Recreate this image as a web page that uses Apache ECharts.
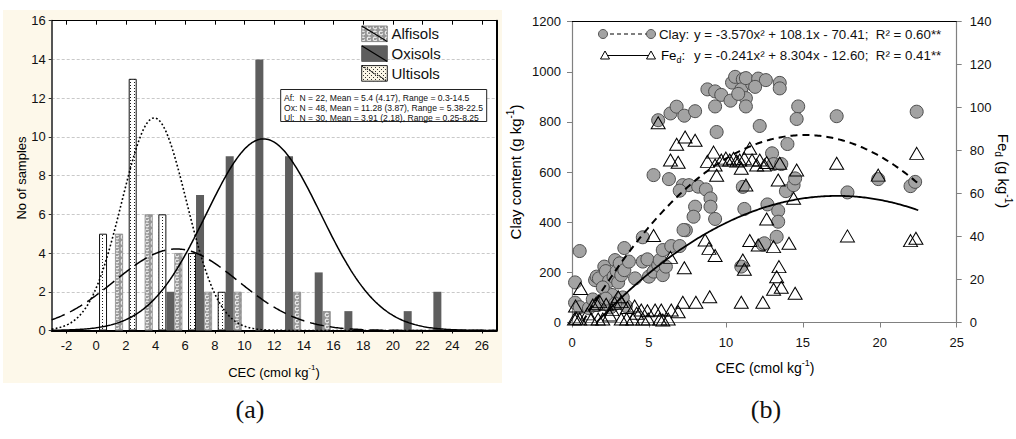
<!DOCTYPE html>
<html>
<head>
<meta charset="utf-8">
<script src="https://cdn.jsdelivr.net/npm/echarts@6/dist/echarts.min.js"></script>
<style>
  html, body { margin: 0; padding: 0; background: #ffffff; }
  #chart { width: 1016px; height: 439px; }
</style>
</head>
<body>
<div id="chart"></div>
<script>
// ---------- Panel (a): CEC frequency by soil order ----------
const cecBins        = [1, 3, 5, 7, 9, 11, 13, 15, 17, 19, 21, 23];
const ultisolsCounts = [5, 13, 6, 4, 2, 0, 0, 0, 0, 0, 0, 0];
const oxisolsCounts  = [0, 0, 2, 7, 9, 14, 9, 3, 1, 0, 1, 2];
const alfisolsCounts = [5, 6, 4, 2, 2, 0, 2, 1, 0, 0, 0, 0];
const binWidth = 2;

// fitted normal curves: Alfisols, Oxisols, Ultisols
const soilNames = ['Alfisols', 'Oxisols', 'Ultisols'];
const soilAbbr  = ['Af:', 'Ox:', 'Ul:'];
const soilN     = [22, 48, 30];
const soilMean  = ['5.4', '11.28', '3.91'];
const soilSD    = ['4.17', '3.87', '2.18'];
const soilRange = ['0.3-14.5', '5.38-22.5', '0.25-8.25'];

const histXTicks = [-2, 0, 2, 4, 6, 8, 10, 12, 14, 16, 18, 20, 22, 24, 26];

// ---------- Panel (b): clay and Fe_d against CEC ----------
const clayPoints = [
  [5.6,807],[6.4,834],[6.8,861],[7.3,825],[8.0,843],[8.8,930],[9.3,922],[9.7,908],[9.3,862],[9.4,760],
  [10.3,885],[10.4,957],[10.6,980],[11.1,970],[11.0,930],[11.3,895],[11.3,862],[11.7,952],[11.3,975],[12.1,973],
  [12.6,967],[13.5,956],[13.5,934],[14.7,862],[14.6,812],[17.2,823],[22.4,841],[12.2,784],[14.0,712],[10.8,912],
  [11.9,940],
  [5.3,588],[6.3,572],[7.2,548],[7.6,548],[8.2,542],[8.7,531],[7.0,526],[9.0,495],[8.0,462],[9.0,462],
  [7.9,422],[9.3,413],[7.4,368],[11.2,453],[11.1,541],[12.7,471],[13.0,675],[13.1,632],[13.6,632],[13.9,524],
  [14.4,548],[14.5,575],[17.9,519],[19.9,572],[22.0,544],[22.3,561],[13.4,446],[13.4,402],[13.3,342],[12.4,311],
  [11.0,223],[12.5,316],
  [0.2,160],[0.5,285],[0.2,79],[0.5,61],[1.1,57],[1.35,92],[1.5,169],[1.6,183],[1.75,176],[1.9,87],
  [2.1,223],[2.2,205],[2.4,165],[2.6,110],[2.7,183],[2.8,249],[2.9,205],[3.1,90],[3.0,160],[3.1,236],
  [3.2,189],[3.4,209],[3.4,297],[3.5,66],[3.7,243],[4.1,176],[4.6,243],[4.6,340],[4.9,252],[5.0,183],
  [5.3,203],[5.6,229],[5.7,249],[5.9,189],[5.9,289],[6.1,223],[6.45,305],[7.0,305],[7.25,369],[2.0,140],
  [2.5,60],[1.6,70],[2.2,95],[3.3,100],[2.8,75]
];
const fePoints = [
  [5.6,93],[7.35,86.3],[8.0,84.8],[6.8,83],[6.4,75.6],[6.9,74.6],[9.2,79.3],[8.8,75],[9.4,68.5],[9.3,73.3],
  [9.7,75.6],[10.0,76.5],[10.25,75.6],[10.5,76.4],[10.7,75.2],[10.9,75.6],[11.0,71.8],[11.2,76.4],[11.55,81.1],[11.7,75.6],
  [12.0,73.3],[12.2,75.6],[12.5,73.3],[12.65,74.5],[13.5,74.1],[14.6,71],[17.2,74.1],[22.4,78.7],[19.9,68.6],[11.3,64],
  [13.4,66.3],[14.4,57.8],[12.65,48.2],[11.55,38.2],[12.1,36.1],[13.1,35.3],[14.1,36.9],[17.9,40.3],[22.0,38.1],[22.35,39.2],
  [11.1,29.1],[11.2,24.8],[13.45,26],[13.3,21.3],[13.1,15.5],[13.6,16.4],[14.5,13.6],[12.4,9.4],[11.0,9.4],
  [0.55,15.8],[0.23,7.7],[0.27,2],[5.3,40.5],[6.4,30.3],[7.3,25.5],[8.65,38.4],[8.9,34.5],[9.3,31.2],[8.95,12],
  [8.05,9.4],[7.2,9.4],[6.9,5],[6.45,5.8],[5.8,5.8],[5.4,5.8],[4.9,5.5],[4.5,5.8],[4.07,7.7],[3.6,7],
  [3.2,9.7],[2.77,9],[2.22,8.5],[1.8,9.7],[1.35,8.1],[1.57,8.9],[3.0,12],[0.16,1.6],[0.5,1.6],[1.25,1.6],
  [1.7,1.6],[2.0,1.6],[3.2,1.6],[3.55,1.6],[3.95,1.6],[4.6,1.6],[4.95,1.6],[5.7,1.6],[5.9,1.2],[6.25,1.6],
  [4.2,4.3],[2.45,3.5],[2.6,6],[1.0,4]
];

// quadratic fits as printed: a, b, c (y = a x^2 + b x - c)
const clayEq = ['-3.570', '108.1', '70.41'];
const clayR2 = '0.60';
const feEq   = ['-0.241', '8.304', '12.60'];
const feR2   = '0.41';
const fitCEC = [0.2, 22.5];

const FONT = '"Liberation Sans", Arial, sans-serif';
const SERIF = '"Liberation Serif", "Times New Roman", serif';

// ---------- fill patterns ----------
function makePattern(w, h, draw) {
  const c = document.createElement('canvas');
  c.width = w; c.height = h;
  draw(c.getContext('2d'));
  return { image: c, repeat: 'repeat', imageWidth: w, imageHeight: h };
}
const alfPattern = makePattern(6, 6, g => {
  g.fillStyle = '#979797'; g.fillRect(0, 0, 6, 6);
  g.strokeStyle = '#f4f4f4'; g.lineWidth = 1.1;
  g.beginPath(); g.arc(3, 3, 1.8, 0.3, Math.PI * 1.8); g.stroke();
});
const ultPattern = makePattern(4, 3, g => {
  g.fillStyle = '#ffffff'; g.fillRect(0, 0, 4, 3);
  g.fillStyle = '#1a1a1a'; g.fillRect(2, 1, 1, 1);
});
const ultLegendPattern = makePattern(4, 4, g => {
  g.fillStyle = '#fbf6e6'; g.fillRect(0, 0, 4, 4);
  g.fillStyle = '#333'; g.fillRect(1, 1, 1, 1); g.fillRect(3, 3, 1, 1);
});

// ---------- derived series data ----------
function barData(counts) {
  return cecBins.map((x, i) => [x, counts[i]]).filter(d => d[1] > 0);
}
function normalCurve(i) {
  const n = soilN[i], m = parseFloat(soilMean[i]), s = parseFloat(soilSD[i]);
  const k = n * binWidth / (s * Math.sqrt(2 * Math.PI));
  const out = [];
  for (let x = -3; x <= 27.001; x += 0.1) {
    out.push([+x.toFixed(2), k * Math.exp(-((x - m) * (x - m)) / (2 * s * s))]);
  }
  return out;
}
function quadCurve(eq) {
  const a = parseFloat(eq[0]), b = parseFloat(eq[1]), c = -parseFloat(eq[2]);
  const out = [];
  for (let x = fitCEC[0]; x <= fitCEC[1] + 1e-9; x += 0.1) {
    const y = a * x * x + b * x + c;
    if (y >= 0) out.push([+x.toFixed(2), y]);
  }
  return out;
}

// ---------- text helpers ----------
function richStyle(size) {
  return {
    n: { fontSize: size, fontFamily: FONT, color: '#111', lineHeight: size + 5 },
    s: { fontSize: Math.round(size * 0.65), fontFamily: FONT, color: '#111', lineHeight: 9, verticalAlign: 'top' },
    d: { fontSize: Math.round(size * 0.68), fontFamily: FONT, color: '#111', lineHeight: 9, verticalAlign: 'bottom' }
  };
}
function titleText(x, y, text, size, rotation) {
  return {
    type: 'text', x: x, y: y, rotation: rotation || 0, z: 20,
    style: { text: text, align: 'center', verticalAlign: 'middle', rich: richStyle(size), fontFamily: FONT }
  };
}

// ---------- panel (a) legend and statistics box ----------
const legendA = [];
const legX = 361.7, legW = 25.6, legH = 15.6, legYs = [26, 45.8, 65.6];
const legFills = [alfPattern, '#5e5e5e', ultLegendPattern];
const legStroke = ['#8a8a8a', '#5e5e5e', '#222'];
const legDash = [null, null, [1.5, 1.5]];
soilNames.forEach((name, i) => {
  const y = legYs[i];
  legendA.push({ type: 'rect', z: 20, shape: { x: legX, y: y, width: legW, height: legH },
    style: { fill: legFills[i], stroke: legStroke[i], lineWidth: 1 } });
  legendA.push({ type: 'line', z: 21, shape: { x1: legX, y1: y, x2: legX + legW, y2: y + legH },
    style: { stroke: '#000', lineWidth: 1.2, lineDash: legDash[i] } });
  legendA.push({ type: 'text', z: 21, x: 391.5, y: y + legH / 2,
    style: { text: name, fontSize: 15, fontFamily: FONT, fill: '#111', verticalAlign: 'middle' } });
});
legendA.push({ type: 'rect', z: 20, shape: { x: 280.7, y: 89.5, width: 206, height: 32 },
  style: { fill: '#fff', stroke: '#222', lineWidth: 1 } });
soilAbbr.forEach((ab, i) => {
  const y = 97.5 + i * 10;
  legendA.push({ type: 'text', z: 21, x: 284, y: y,
    style: { text: ab, fontSize: 8.6, fontFamily: FONT, fill: '#111', verticalAlign: 'middle' } });
  legendA.push({ type: 'text', z: 21, x: 299.5, y: y,
    style: { text: 'N = ' + soilN[i] + ', Mean = ' + soilMean[i] + ' (' + soilSD[i] + '), Range = ' + soilRange[i],
      fontSize: 8.6, fontFamily: FONT, fill: '#111', verticalAlign: 'middle' } });
});

// ---------- panel (b) legend ----------
function tri(cx, cy, w, h) {
  return [[cx, cy - h / 2], [cx + w / 2, cy + h / 2], [cx - w / 2, cy + h / 2]];
}
function fmtEq(eq) {
  return 'y = ' + eq[0] + 'x\u00b2 + ' + eq[1] + 'x - ' + eq[2] + ';';
}
const legendB = [
  { type: 'line', z: 20, shape: { x1: 603, y1: 34, x2: 651, y2: 34 }, style: { stroke: '#000', lineWidth: 1.2, lineDash: [4, 3] } },
  { type: 'circle', z: 21, shape: { cx: 603, cy: 34, r: 4.5 }, style: { fill: '#a3a3a3', stroke: '#555', lineWidth: 1 } },
  { type: 'circle', z: 21, shape: { cx: 651, cy: 34, r: 4.5 }, style: { fill: '#a3a3a3', stroke: '#555', lineWidth: 1 } },
  { type: 'line', z: 20, shape: { x1: 605, y1: 55.5, x2: 651, y2: 55.5 }, style: { stroke: '#000', lineWidth: 1.2 } },
  { type: 'polygon', z: 21, shape: { points: tri(605, 55, 9, 8) }, style: { fill: '#fff', stroke: '#000', lineWidth: 1 } },
  { type: 'polygon', z: 21, shape: { points: tri(651, 55, 9, 8) }, style: { fill: '#fff', stroke: '#000', lineWidth: 1 } },
  { type: 'text', z: 21, x: 659, y: 34, style: { text: 'Clay:', fontSize: 13.3, fontFamily: FONT, fill: '#111', verticalAlign: 'middle' } },
  { type: 'text', z: 21, x: 694, y: 34, style: { text: fmtEq(clayEq) + '  R\u00b2 = ' + clayR2 + '**', fontSize: 13.3, fontFamily: FONT, fill: '#111', verticalAlign: 'middle' } },
  { type: 'text', z: 21, x: 661, y: 55, style: { text: '{n|Fe}{d|d}{n|:}', rich: richStyle(13.3), verticalAlign: 'middle' } },
  { type: 'text', z: 21, x: 694, y: 55, style: { text: fmtEq(feEq) + '  R\u00b2 = ' + feR2 + '**', fontSize: 13.3, fontFamily: FONT, fill: '#111', verticalAlign: 'middle' } }
];

// ---------- axis titles and panel letters ----------
const titles = [
  titleText(21, 178, '{n|No of samples}', 13, Math.PI / 2),
  titleText(274, 372, '{n|CEC (cmol kg}{s|-1}{n|)}', 13),
  titleText(515, 172, '{n|Clay content (g kg}{s|-1}{n|)}', 15, Math.PI / 2),
  titleText(1003, 171, '{n|Fe}{d|d}{n| (g kg}{s|-1}{n|)}', 15, -Math.PI / 2),
  titleText(765, 368, '{n|CEC (cmol kg}{s|-1}{n|)}', 14),
  { type: 'text', z: 20, x: 250, y: 409, style: { text: '(a)', fontSize: 26, fontFamily: SERIF, fill: '#111', align: 'center', verticalAlign: 'middle' } },
  { type: 'text', z: 20, x: 766, y: 409, style: { text: '(b)', fontSize: 26, fontFamily: SERIF, fill: '#111', align: 'center', verticalAlign: 'middle' } }
];

const background = [
  { type: 'rect', z: -100, shape: { x: 3, y: 10, width: 499, height: 373 }, style: { fill: '#fdf8ea' } }
];

// ---------- chart ----------
const labelStyle = { fontSize: 13, fontFamily: FONT, color: '#111', formatter: v => String(v) };
const grayAxis = { show: true, onZero: false, lineStyle: { color: '#808080', width: 1.2 } };

const option = {
  animation: false,
  backgroundColor: '#ffffff',
  grid: [
    { left: 51.7, top: 20.7, width: 445, height: 309.8, show: true, backgroundColor: '#ffffff', borderWidth: 0, containLabel: false },
    { left: 572, top: 21.7, width: 384.7, height: 300.8, show: true, backgroundColor: '#ffffff', borderWidth: 0, containLabel: false }
  ],
  xAxis: [
    { gridIndex: 0, type: 'value', min: -3, max: 27, position: 'bottom',
      axisLine: { show: true, onZero: false, lineStyle: { color: '#000', width: 2 } },
      axisTick: { show: true, customValues: histXTicks, length: 3, lineStyle: { color: '#000' } },
      axisLabel: Object.assign({ customValues: histXTicks, margin: 8 }, labelStyle),
      splitLine: { show: false } },
    { gridIndex: 0, type: 'value', min: -3, max: 27, position: 'top',
      axisLine: { show: true, onZero: false, lineStyle: { color: '#000', width: 1 } },
      axisTick: { show: true, inside: true, customValues: histXTicks, length: 4, lineStyle: { color: '#000' } },
      axisLabel: { show: false }, splitLine: { show: false } },
    { gridIndex: 1, type: 'value', min: 0, max: 25, interval: 5, position: 'bottom',
      axisLine: grayAxis,
      axisTick: { show: true, length: 5, lineStyle: { color: '#808080' } },
      axisLabel: Object.assign({ margin: 13 }, labelStyle),
      splitLine: { show: false } },
    { gridIndex: 1, type: 'value', min: 0, max: 25, position: 'top',
      axisLine: { show: true, onZero: false, lineStyle: { color: '#000', width: 1 } },
      axisTick: { show: false }, axisLabel: { show: false }, splitLine: { show: false } }
  ],
  yAxis: [
    { gridIndex: 0, type: 'value', min: 0, max: 16, interval: 2, position: 'left',
      axisLine: { show: true, onZero: false, lineStyle: { color: '#555', width: 2 } },
      axisTick: { show: true, length: 3, lineStyle: { color: '#333' } },
      axisLabel: Object.assign({ margin: 6 }, labelStyle),
      splitLine: { show: true, lineStyle: { color: '#c9c9c9', width: 1, type: [3, 2] } } },
    { gridIndex: 0, type: 'value', min: 0, max: 16, position: 'right',
      axisLine: { show: true, onZero: false, lineStyle: { color: '#000', width: 2 } },
      axisTick: { show: false }, axisLabel: { show: false }, splitLine: { show: false } },
    { gridIndex: 1, type: 'value', min: 0, max: 1200, interval: 200, position: 'left',
      axisLine: grayAxis,
      axisTick: { show: true, length: 5, lineStyle: { color: '#808080' } },
      axisLabel: Object.assign({ margin: 11 }, labelStyle),
      splitLine: { show: false } },
    { gridIndex: 1, type: 'value', min: 0, max: 140, interval: 20, position: 'right',
      axisLine: grayAxis,
      axisTick: { show: true, length: 5, lineStyle: { color: '#808080' } },
      axisLabel: Object.assign({ margin: 13 }, labelStyle),
      splitLine: { show: false } }
  ],
  series: [
    { name: 'Ultisols', type: 'bar', xAxisIndex: 0, yAxisIndex: 0, barWidth: 8, barGap: '0%',
      data: barData(ultisolsCounts), itemStyle: { color: ultPattern, borderColor: '#111', borderWidth: 1 } },
    { name: 'Oxisols', type: 'bar', xAxisIndex: 0, yAxisIndex: 0, barWidth: 8, barGap: '0%',
      data: barData(oxisolsCounts), itemStyle: { color: '#5e5e5e' } },
    { name: 'Alfisols', type: 'bar', xAxisIndex: 0, yAxisIndex: 0, barWidth: 8, barGap: '0%',
      data: barData(alfisolsCounts), itemStyle: { color: alfPattern, borderColor: '#888', borderWidth: 0.8 } },
    { name: 'Alfisols fit', type: 'line', xAxisIndex: 0, yAxisIndex: 0, showSymbol: false, smooth: false,
      data: normalCurve(0), lineStyle: { color: '#000', width: 1.5, type: [14, 6] }, z: 5 },
    { name: 'Oxisols fit', type: 'line', xAxisIndex: 0, yAxisIndex: 0, showSymbol: false,
      data: normalCurve(1), lineStyle: { color: '#000', width: 1.5 }, z: 5 },
    { name: 'Ultisols fit', type: 'line', xAxisIndex: 0, yAxisIndex: 0, showSymbol: false,
      data: normalCurve(2), lineStyle: { color: '#000', width: 1.6, type: [1.8, 2.2] }, z: 5 },
    { name: 'Clay', type: 'scatter', xAxisIndex: 2, yAxisIndex: 2, symbol: 'circle', symbolSize: 13, clip: false,
      data: clayPoints, itemStyle: { color: '#a3a3a3', borderColor: '#4d4d4d', borderWidth: 1, opacity: 1 } },
    { name: 'Fe_d', type: 'scatter', xAxisIndex: 2, yAxisIndex: 3, symbol: 'triangle', symbolSize: [14, 12], clip: false,
      data: fePoints, itemStyle: { color: 'rgba(255,255,255,0)', borderColor: '#000', borderWidth: 1, opacity: 1 } },
    { name: 'Clay fit', type: 'line', xAxisIndex: 2, yAxisIndex: 2, showSymbol: false,
      data: quadCurve(clayEq), lineStyle: { color: '#000', width: 2, type: [7, 5] }, z: 6 },
    { name: 'Fe_d fit', type: 'line', xAxisIndex: 2, yAxisIndex: 3, showSymbol: false,
      data: quadCurve(feEq), lineStyle: { color: '#000', width: 1.8 }, z: 6 }
  ],
  graphic: { elements: background.concat(legendA, legendB, titles) }
};

const chart = echarts.init(document.getElementById('chart'), null, { renderer: 'svg', width: 1016, height: 439 });
chart.setOption(option);
</script>
</body>
</html>
